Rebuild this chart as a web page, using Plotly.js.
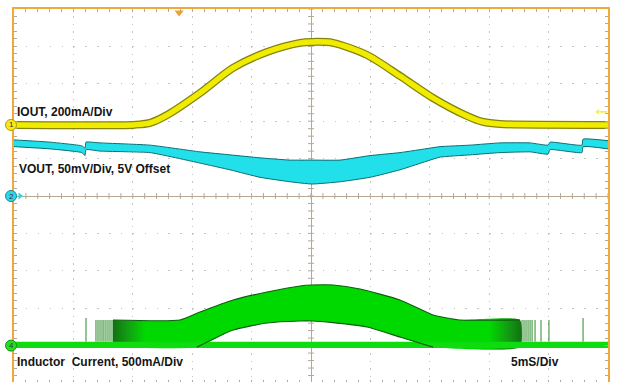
<!DOCTYPE html>
<html><head><meta charset="utf-8">
<script src="https://cdn.plot.ly/plotly-3.0.1.min.js"></script>
<style>html,body{margin:0;padding:0;background:#fff;overflow:hidden}#chart{width:621px;height:384px}</style>
</head><body><div id="chart"></div>
<script>
// ---- Channel 1: IOUT (mA), 200 mA/div ----
const ioutTime = [0, 10.0, 10.6, 11.45, 12.88, 15.66, 18.44, 21.3, 24.08, 25.09, 26.85, 29.72, 32.49, 35.27, 38.13, 39.48, 40.91, 50];
const ioutMA   = [0, 0, 3, 11, 53, 171, 305, 390, 439, 444, 439, 374, 262, 144, 48, 16, 5, 0];

// ---- Channel 2: VOUT envelope (V), 50 mV/div, 5 V offset ----
const voutTime = [0, 3.03, 5.72, 5.98, 6.06, 7.24, 11.45, 15.66, 18.18, 20.71, 23.23, 25.09, 27.44, 29.97, 32.49, 35.02, 35.86, 38.39, 40.91, 43.44, 44.95, 45.12, 47.81, 47.90, 50];
const voutHigh = [5.075, 5.072, 5.067, 5.064, 5.072, 5.071, 5.068, 5.059, 5.055, 5.051, 5.048, 5.048, 5.048, 5.054, 5.058, 5.064, 5.066, 5.068, 5.071, 5.071, 5.068, 5.072, 5.068, 5.076, 5.074];
const voutLow  = [5.066, 5.063, 5.058, 5.054, 5.062, 5.060, 5.058, 5.044, 5.035, 5.025, 5.019, 5.016, 5.019, 5.025, 5.035, 5.048, 5.052, 5.055, 5.058, 5.059, 5.056, 5.062, 5.058, 5.066, 5.063];

// ---- Channel 4: inductor current (mA), 500 mA/div ----
const ilHighTime = [8.33, 13.97, 15.66, 18.44, 21.30, 24.08, 25.09, 26.85, 29.13, 32.49, 35.27, 36.45, 37.54, 42.59];
const ilHigh     = [342, 342, 449, 610, 717, 797, 810, 810, 757, 610, 409, 369, 342, 342];
const ilLowTime  = [8.33, 15.40, 18.44, 21.30, 24.08, 25.09, 26.85, 29.72, 32.49, 35.27, 42.59];
const ilLow      = [-20, -20, 209, 302, 329, 329, 306, 249, 115, -20, -20];
const ilBaseTime = [0, 50];
const ilBaseHigh = [53, 53];
const ilBaseLow  = [-32, -32];
const spikeTime  = [6.06, 6.90, 7.07, 7.24, 7.41, 7.57, 7.74, 7.91, 8.08, 8.25, 42.76, 42.93, 43.10, 43.27, 43.44, 43.61, 43.86, 44.36, 45.03, 47.90];
const spikeTop   = [369, 342, 342, 342, 342, 342, 342, 342, 342, 342, 342, 342, 342, 342, 342, 342, 342, 342, 342, 369];

// ---- text ----
const channelLabels = ['IOUT, 200mA/Div', 'VOUT, 50mV/Div, 5V Offset', 'Inductor\u00a0 Current, 500mA/Div'];
const timebaseLabel = '5mS/Div';
const channelNumbers = ['1', '2', '4'];
const triggerTime = 13.9;      // ms
const triggerLevel = 70;       // mA on channel 1

// ---- scope scales ----
const div = 37.4;                       // px per vertical division
const ioutRange = [(-5 - 1.9) * 200, (5 - 1.9) * 200];
const voutRange = [5 - 5 * 0.05, 5 + 5 * 0.05];
const ilRange = [(-5 + 4) * 500, (5 + 4) * 500];

const tickCol = '#b5a995';
const traces = [];
const XY = {xaxis: 'x2'};

// inductor current: switching ripple band
traces.push(Object.assign({
  x: ilHighTime.concat(ilLowTime.slice().reverse()),
  y: ilHigh.concat(ilLow.slice().reverse()),
  yaxis: 'y4', mode: 'lines', fill: 'toself', fillcolor: '#00d900',
  fillgradient: {type: 'horizontal', colorscale: [[0, '#107210'], [0.035, '#139c13'], [0.08, '#00d900'], [0.92, '#00d900'], [0.965, '#139c13'], [1, '#107210']]},
  line: {width: 0, shape: 'spline', smoothing: 0.5}, hoverinfo: 'skip'
}, XY));
// spikes
const sx = [], sy = [];
spikeTime.forEach((t, i) => { sx.push(t, t, null); sy.push(ilBaseHigh[0], spikeTop[i], null); });
traces.push(Object.assign({x: sx, y: sy, yaxis: 'y4', mode: 'lines', line: {color: '#2a8a2a', width: 1}, hoverinfo: 'skip'}, XY));
// baseline band
traces.push(Object.assign({
  x: ilBaseTime.concat(ilBaseTime.slice().reverse()),
  y: ilBaseHigh.concat(ilBaseLow.slice().reverse()),
  yaxis: 'y4', mode: 'lines', fill: 'toself', fillcolor: '#0fdc0f', line: {width: 0}, hoverinfo: 'skip'
}, XY));
// band edges
traces.push(Object.assign({x: ilHighTime, y: ilHigh, yaxis: 'y4', mode: 'lines', line: {color: '#0d5f0d', width: 1.2, shape: 'spline', smoothing: 0.5}, hoverinfo: 'skip'}, XY));
traces.push(Object.assign({x: ilLowTime.slice(1, 10), y: ilLow.slice(1, 10), yaxis: 'y4', mode: 'lines', line: {color: '#0d5f0d', width: 1.2, shape: 'spline', smoothing: 0.5}, hoverinfo: 'skip'}, XY));

// VOUT band
traces.push(Object.assign({x: voutTime, y: voutLow, yaxis: 'y3', mode: 'lines', line: {color: '#0b6d74', width: 1, shape: 'spline', smoothing: 0.4}, hoverinfo: 'skip'}, XY));
traces.push(Object.assign({x: voutTime, y: voutHigh, yaxis: 'y3', mode: 'lines', fill: 'tonexty', fillcolor: '#22e0ea', line: {color: '#0b6d74', width: 1, shape: 'spline', smoothing: 0.4}, hoverinfo: 'skip'}, XY));

// IOUT
traces.push(Object.assign({x: ioutTime, y: ioutMA, yaxis: 'y2', mode: 'lines', line: {color: '#85830a', width: 8, shape: 'spline', smoothing: 0.8}, hoverinfo: 'skip'}, XY));
traces.push(Object.assign({x: ioutTime, y: ioutMA, yaxis: 'y2', mode: 'lines', line: {color: '#f0ec00', width: 5.5, shape: 'spline', smoothing: 0.8}, hoverinfo: 'skip'}, XY));

// channel-2 small arrow, trigger position (top) and trigger level (right)
const msPerPx = 5 / 59.4;
const mAperPx = 200 / div;
traces.push(Object.assign({x: [6 * msPerPx], y: [5.0], yaxis: 'y3', mode: 'markers', marker: {symbol: 'triangle-right', size: 6, color: '#22d8e6'}, cliponaxis: false, hoverinfo: 'skip'}, XY));
traces.push(Object.assign({x: [triggerTime], y: [ioutRange[1] - 3.5 * mAperPx], yaxis: 'y2', mode: 'markers', marker: {symbol: 'triangle-down', size: 8, color: '#f0a030'}, cliponaxis: false, hoverinfo: 'skip'}, XY));
traces.push(Object.assign({x: [50 - 10 * msPerPx, 50 - 1 * msPerPx], y: [triggerLevel, triggerLevel], yaxis: 'y2', mode: 'lines+markers', line: {color: '#f2ea30', width: 1.5}, marker: {symbol: 'triangle-left', size: [7, 0], color: '#f2ea30'}, cliponaxis: false, hoverinfo: 'skip'}, XY));

const px2x = x => (x - 14) / 594;
const px2y = y => (383 - y) / 374;

// center-line tick marks
const shapes = [];
for (let i = -25; i <= 25; i++) {
  shapes.push({type: 'line', xref: 'x', yref: 'y', x0: i * 0.2, x1: i * 0.2, y0: -3 / div, y1: 3 / div, line: {color: tickCol, width: 1}, layer: 'below'});
  shapes.push({type: 'line', xref: 'x', yref: 'y', y0: i * 0.2, y1: i * 0.2, x0: -3 / 59.4, x1: 3 / 59.4, line: {color: tickCol, width: 1}, layer: 'below'});
}
// channel ground markers (circles at left edge)
const chMarks = [
  {ax: 'y2', v: 0, fill: '#f7e81a', edge: '#b79e00'},
  {ax: 'y3', v: 5.0, fill: '#2fd6e6', edge: '#1a8c98'},
  {ax: 'y4', v: 0, fill: '#26de26', edge: '#159015'}
];
chMarks.forEach(m => shapes.push({
  type: 'circle', xref: 'paper', yref: m.ax, xsizemode: 'pixel', ysizemode: 'pixel',
  xanchor: px2x(11), yanchor: m.v, x0: -5.5, x1: 5.5, y0: -5.5, y1: 5.5,
  fillcolor: m.fill, line: {color: m.edge, width: 1}, layer: 'above'
}));

const font = {family: 'Liberation Sans, Arial, sans-serif', size: 12, color: '#151515', weight: 'bold'};
const annotations = [
  {text: channelLabels[0], x: px2x(15), y: px2y(112)},
  {text: channelLabels[1], x: px2x(17), y: px2y(169)},
  {text: channelLabels[2], x: px2x(15), y: px2y(362)},
  {text: timebaseLabel, x: px2x(509), y: px2y(362)}
].map(a => Object.assign(a, {xref: 'paper', yref: 'paper', xanchor: 'left', yanchor: 'middle', showarrow: false, font: font}));
chMarks.forEach((m, i) => annotations.push({
  text: channelNumbers[i], xref: 'paper', yref: m.ax, x: px2x(11), y: m.v, xanchor: 'center', yanchor: 'middle',
  showarrow: false, borderpad: 0, font: {family: 'Liberation Sans, Arial', size: 8, color: '#333'}
}));

const grat = {
  showgrid: true, gridcolor: '#c4c4c4', gridwidth: 1, zeroline: true, zerolinecolor: tickCol, zerolinewidth: 1,
  showline: true, linecolor: '#f2a93b', linewidth: 2, mirror: 'ticks', ticks: 'inside', ticklen: 3, tickcolor: tickCol,
  showticklabels: false, fixedrange: true, dtick: 1,
  minor: {dtick: 0.2, ticks: 'inside', ticklen: 3, tickcolor: tickCol, showgrid: false}
};
const hidden = {visible: false, fixedrange: true};
const layout = {
  width: 621, height: 384, margin: {l: 14, r: 13, t: 9, b: 1},
  paper_bgcolor: '#ffffff', plot_bgcolor: '#ffffff', showlegend: false,
  xaxis: Object.assign({}, grat, {range: [-5, 5], griddash: '1.5px,5.98px'}),
  yaxis: Object.assign({}, grat, {range: [-5, 5], griddash: '1.5px,10.38px'}),
  xaxis2: Object.assign({range: [0, 50], overlaying: 'x'}, hidden),
  yaxis2: Object.assign({range: ioutRange, overlaying: 'y'}, hidden),
  yaxis3: Object.assign({range: voutRange, overlaying: 'y'}, hidden),
  yaxis4: Object.assign({range: ilRange, overlaying: 'y'}, hidden),
  shapes: shapes, annotations: annotations
};
Plotly.newPlot('chart', traces, layout, {displayModeBar: false, staticPlot: true});
</script></body></html>
